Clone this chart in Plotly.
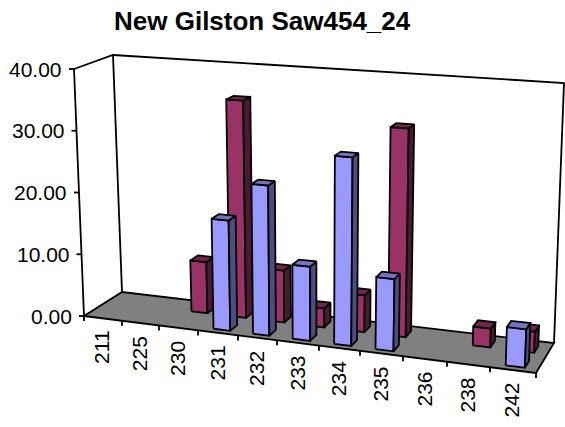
import numpy as np
import plotly.graph_objects as go

title = "New Gilston Saw454_24"
categories = ["211", "225", "230", "231", "232", "233", "234", "235", "236", "238", "242"]
series_front = [0, 0, 0, 17.4, 23.5, 11.5, 29.0, 11.0, 0, 0, 5.7]
series_back = [0, 0, 8.3, 35.0, 8.3, 3.0, 5.8, 32.5, 0, 2.9, 3.2]
value_ticks = [0, 10, 20, 30, 40]

RED = ("#993366", "#4d1a33", "#73264d")
BLUE = ("#9999ff", "#4d4d80", "#7373bf")
VMAX = 40.0
N = len(categories)

# corners of the 3D box in page pixels: front-left, front-right, back-right, back-left
floor_px = np.array([(84, 316), (536, 373), (554, 343), (122, 292)], float)
top_px = np.array([(74, 69), (546, 101), (564, 83), (113, 55)], float)
# perspective spacing of the category axis along its length
front_ticks_px = np.array([84, 122, 159, 198, 238, 277, 319, 360, 403, 447, 490, 536], float)
spacing = (front_ticks_px - front_ticks_px[0]) / (front_ticks_px[-1] - front_ticks_px[0])


def project(u, v, w=0.0):
    t = np.interp(u, np.arange(N + 1), spacing)

    def bilinear(c):
        return (1 - v) * ((1 - t) * c[0] + t * c[1]) + v * ((1 - t) * c[3] + t * c[2])
    base, roof = bilinear(floor_px), bilinear(top_px)
    return tuple(base + (roof - base) * (w / VMAX))


fig = go.Figure()


def poly(points, fill=None, width=1.8, color="black"):
    xs = [p[0] for p in points]
    ys = [p[1] for p in points]
    kw = {}
    if fill:
        xs.append(xs[0]); ys.append(ys[0])
        kw = dict(fill="toself", fillcolor=fill)
    fig.add_trace(go.Scatter(x=xs, y=ys, mode="lines", line=dict(color=color, width=width),
                             hoverinfo="skip", showlegend=False, cliponaxis=False, **kw))


# walls
poly([project(0, 0, VMAX), project(0, 1, VMAX), project(N, 1, VMAX), project(N, 1, 0)])
poly([project(0, 1, VMAX), project(0, 1, 0)])
# floor
poly([project(0, 0), project(N, 0), project(N, 1), project(0, 1)], fill="#808080")
# value axis
poly([project(0, 0, VMAX), project(0, 0, 0)])


def bar(i, val, v0, v1, colors, bw=0.42):
    if not val:
        return
    u0, u1 = i + 0.5 - bw / 2, i + 0.5 + bw / 2
    face, side, top = colors
    poly([project(u0, v0), project(u1, v0), project(u1, v0, val), project(u0, v0, val)], fill=face)
    poly([project(u1, v0), project(u1, v1), project(u1, v1, val), project(u1, v0, val)], fill=side)
    poly([project(u0, v0, val), project(u1, v0, val), project(u1, v1, val), project(u0, v1, val)], fill=top)


for i, val in enumerate(series_back):
    bar(i, val, 0.62, 0.84, RED)
for i, val in enumerate(series_front):
    bar(i, val, 0.12, 0.34, BLUE)

annotations = []
# value ticks and labels
for t in value_ticks:
    x, y = project(0, 0, t)
    poly([(x - 5, y), (x, y)])
    annotations.append(dict(x=x - 10, y=y, text=f"{t:.2f}", xanchor="right", yanchor="middle",
                            showarrow=False, font=dict(size=21)))
# category ticks and labels
for i in range(N + 1):
    x, y = project(i, 0)
    poly([(x, y), (x, y + 5)])
for i, c in enumerate(categories):
    x, y = project(i + 0.5, 0)
    annotations.append(dict(x=x - 1, y=y + 11, text=c, textangle=-90, xanchor="center", yanchor="top",
                            showarrow=False, font=dict(size=21)))
annotations.append(dict(x=262, y=21, text=f"<b>{title}</b>", xanchor="center", yanchor="middle",
                        showarrow=False, font=dict(size=26)))

fig.update_layout(
    width=565, height=427, margin=dict(l=0, r=0, t=0, b=0),
    paper_bgcolor="white", plot_bgcolor="white",
    font=dict(family="Liberation Sans, Arial, sans-serif", color="black"),
    xaxis=dict(range=[0, 565], visible=False, fixedrange=True),
    yaxis=dict(range=[427, 0], visible=False, fixedrange=True),
    annotations=annotations, showlegend=False,
)
fig.write_html("out.html", config=dict(displayModeBar=False),
               post_script="document.body.style.margin='0';document.body.style.overflow='hidden';")
